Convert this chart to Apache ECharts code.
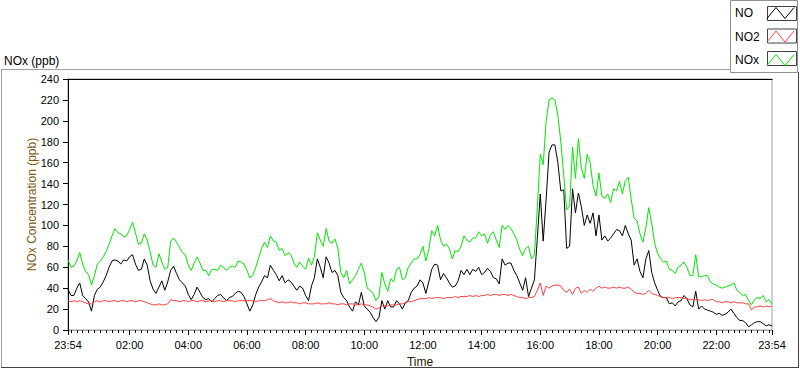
<!DOCTYPE html>
<html>
<head>
<meta charset="utf-8">
<script src="https://cdn.jsdelivr.net/npm/echarts@6/dist/echarts.min.js"></script>
<style>
html,body{margin:0;padding:0;background:#fff;}
#chart{width:800px;height:369px;}
</style>
</head>
<body>
<div id="chart"></div>
<script>
// Time samples every 6 minutes, 23:54 -> 23:54 next day
const categories = [];
for (let i = 0; i <= 240; i++) {
  const m = ((-6 + 6 * i) % 1440 + 1440) % 1440;
  categories.push(String(Math.floor(m / 60)).padStart(2, '0') + ':' + String(m % 60).padStart(2, '0'));
}
const tickLabels = ['23:54','02:00','04:00','06:00','08:00','10:00','12:00','14:00','16:00','18:00','20:00','22:00','23:54'];
const yTicks = [0, 20, 40, 60, 80, 100, 120, 140, 160, 180, 200, 220, 240];

const seriesNames = ['NO', 'NO2', 'NOx'];

const noValues = [39,
33,33,40,45,33,30,27,18,33,39,
41,46,52,60,66,67,66,63,67,66,
70,72,63,57,58,68,62,47,39,35,
41,47,38,46,57,61,54,48,45,42,
34,29,34,41,36,31,29,30,27,30,
33,34,31,28,31,32,35,37,36,32,
25,18,24,34,41,46,52,50,62,57,
53,47,52,45,48,46,42,38,42,40,
33,28,42,50,68,60,50,70,64,55,
57,52,36,31,28,22,18,27,24,36,
23,20,17,12,8,12,28,20,28,22,
22,28,25,20,26,28,36,40,42,48,
45,35,46,58,63,62,48,54,50,45,
41,42,47,57,53,58,53,58,56,60,
53,55,59,56,50,49,44,68,62,64,
64,57,52,45,38,50,32,40,48,88,
130,85,125,170,177,177,160,133,134,78,
80,135,112,131,118,100,110,102,112,90,
110,86,90,85,88,92,96,95,90,100,
92,86,62,68,56,50,68,76,55,45,
38,32,31,31,25,26,23,27,28,33,
30,24,22,37,20,23,20,19,18,17,
15,16,14,15,17,20,16,12,9,9,
7,3,5,7,8,8,6,4,5,4];

const no2Values = [28,
27,28,27,28,27,26,25,25,27,28,
27,28,28,27,28,28,27,28,28,27,
28,28,27,28,28,27,26,25,24,24,
25,24,24,25,29,28,28,27,28,28,
27,28,28,27,28,28,27,28,28,27,
28,28,27,28,28,28,27,28,28,28,
28,28,28,27,28,28,28,29,30,28,
27,26,27,26,26,27,26,26,25,26,
26,25,25,25,26,25,25,25,26,25,
25,24,25,25,24,25,25,24,24,25,
24,24,23,22,20,21,23,23,23,24,
24,24,25,25,26,27,27,28,29,30,
30,30,31,30,31,31,31,30,31,31,
31,32,31,32,32,32,33,32,33,32,
33,33,34,33,34,34,33,34,34,33,
34,33,32,31,31,30,31,31,32,38,
45,33,42,40,42,43,43,42,38,36,
39,34,40,41,35,38,36,39,37,40,
42,40,41,40,40,41,40,41,40,40,
41,39,36,35,35,34,35,38,35,34,
33,32,31,31,31,30,31,31,31,30,
30,29,29,29,29,28,29,28,29,29,
27,27,26,27,27,26,27,26,26,26,
25,25,19,22,22,23,22,23,22,23];

const noxValues = [67,
60,61,66,74,63,56,53,43,52,63,
66,70,75,82,90,97,93,92,89,90,
96,103,93,82,83,92,86,75,62,60,
73,65,58,60,85,88,84,79,74,72,
62,57,64,70,64,57,57,52,58,58,
57,62,60,57,60,61,60,66,65,63,
57,50,52,60,69,78,84,79,90,85,
84,76,78,71,74,72,64,60,65,61,
58,69,62,70,93,86,80,97,85,83,
87,78,55,50,57,44,48,52,58,64,
55,40,38,35,28,32,55,44,37,49,
46,58,60,48,50,60,64,68,68,72,
80,66,77,95,90,100,86,80,82,78,
68,76,75,80,90,86,84,88,88,94,
90,92,83,91,94,86,79,100,96,100,
97,92,86,77,71,78,80,68,72,117,
168,158,200,220,222,220,205,180,148,115,
118,175,145,183,155,145,168,160,138,128,
150,128,126,130,122,135,133,142,130,143,
146,125,107,104,92,84,98,117,102,83,
73,68,65,66,58,57,54,60,62,65,
60,52,52,72,51,51,52,52,46,44,
43,41,40,41,42,43,45,38,36,33,
34,28,24,29,31,30,33,27,29,25];

const colors = ['#000000', '#ff4040', '#00e600'];
const FONT = 'Liberation Sans';
const lastIdx = categories.length - 1;

const isMajor = (i) => i === 0 || i === lastIdx || (tickLabels.indexOf(categories[i]) >= 0 && i !== 1 && categories[i] !== '23:54');
const isMinor = (i) => i === 0 || i === lastIdx || i % 2 === 1;

const chart = echarts.init(document.getElementById('chart'), null, {renderer: 'svg'});

const option = {
  animation: false,
  backgroundColor: '#ffffff',
  title: {
    text: 'NOx (ppb)',
    left: 4, top: 55, padding: 0,
    textStyle: {fontFamily: FONT, fontSize: 12, fontWeight: 'normal', color: '#000'}
  },
  legend: {
    orient: 'vertical',
    left: 735, top: 7,
    padding: 0,
    itemWidth: 27, itemHeight: 11,
    itemGap: 11.5,
    align: 'right',
    icon: 'path://M0,11L9,0L18,11L27,0',
    symbolKeepAspect: false,
    itemStyle: {color: 'transparent', borderWidth: 1},
    formatter: '{a|{name}}',
    textStyle: {fontFamily: FONT, fontSize: 12, color: '#000',
      rich: {a: {fontFamily: FONT, fontSize: 12, color: '#000', width: 27, align: 'left'}}},
    data: seriesNames
  },
  graphic: [
    {type: 'line', shape: {x1: 1, y1: 69.5, x2: 731, y2: 69.5}, style: {stroke: '#a0a0a0', lineWidth: 1}, silent: true},
    {type: 'line', shape: {x1: 1.5, y1: 69, x2: 1.5, y2: 368}, style: {stroke: '#a0a0a0', lineWidth: 1}, silent: true},
    {type: 'line', shape: {x1: 1, y1: 367.5, x2: 799, y2: 367.5}, style: {stroke: '#404040', lineWidth: 1}, silent: true},
    {type: 'line', shape: {x1: 798.5, y1: 72, x2: 798.5, y2: 368}, style: {stroke: '#404040', lineWidth: 1}, silent: true},
    {type: 'rect', shape: {x: 730.5, y: 0.5, width: 67, height: 72}, style: {fill: '#fff', stroke: '#909090', lineWidth: 1}, z: -1, silent: true},
    {type: 'rect', shape: {x: 767.5, y: 6.5, width: 29, height: 14}, style: {fill: 'none', stroke: '#404040', lineWidth: 1}, silent: true},
    {type: 'rect', shape: {x: 767.5, y: 29, width: 29, height: 14}, style: {fill: 'none', stroke: '#404040', lineWidth: 1}, silent: true},
    {type: 'rect', shape: {x: 767.5, y: 51.5, width: 29, height: 14}, style: {fill: 'none', stroke: '#404040', lineWidth: 1}, silent: true}
  ],
  grid: {
    left: 68, top: 79, right: 28, bottom: 39,
    containLabel: false, outerBoundsMode: 'none',
    show: true, borderColor: '#a0a0a0', borderWidth: 1, backgroundColor: '#fff'
  },
  xAxis: [
    {
      type: 'category', data: categories, boundaryGap: false, position: 'bottom',
      name: 'Time', nameLocation: 'middle', nameGap: 26,
      nameTextStyle: {fontFamily: FONT, fontSize: 12, color: '#2a1a00'},
      axisLine: {show: true, lineStyle: {color: '#a0a0a0'}},
      axisTick: {show: true, interval: (i) => isMajor(i), length: 5, lineStyle: {color: '#000'}},
      axisLabel: {show: true, interval: (i) => isMajor(i), margin: 9,
        fontFamily: FONT, fontSize: 11, color: '#000'},
      splitLine: {show: false}
    },
    {
      type: 'category', data: categories, boundaryGap: false, position: 'bottom',
      axisLine: {show: false},
      axisTick: {show: true, interval: (i) => isMinor(i), length: 3, lineStyle: {color: '#000'}},
      axisLabel: {show: false},
      splitLine: {show: false}
    },
    {
      type: 'category', data: categories, boundaryGap: false, position: 'top',
      axisLine: {show: true, lineStyle: {color: '#000'}},
      axisTick: {show: false}, axisLabel: {show: false}, splitLine: {show: false}
    }
  ],
  yAxis: {
    type: 'value', min: yTicks[0], max: yTicks[yTicks.length - 1], interval: 20,
    name: 'NOx Concentration (ppb)', nameLocation: 'middle', nameGap: 30,
    nameMoveOverlap: false,
    nameTextStyle: {fontFamily: FONT, fontSize: 12, color: '#7a5a10'},
    axisLine: {show: true, lineStyle: {color: '#000'}},
    axisTick: {show: true, length: 5, lineStyle: {color: '#000'}},
    axisLabel: {margin: 9, fontFamily: FONT, fontSize: 11, color: '#000'},
    splitLine: {show: false}
  },
  series: [
    {name: 'NO', type: 'line', data: noValues, showSymbol: false, symbol: 'none',
      lineStyle: {color: colors[0], width: 1}, itemStyle: {color: colors[0], borderColor: colors[0]}},
    {name: 'NO2', type: 'line', data: no2Values, showSymbol: false, symbol: 'none',
      lineStyle: {color: colors[1], width: 1}, itemStyle: {color: colors[1], borderColor: colors[1]}},
    {name: 'NOx', type: 'line', data: noxValues, showSymbol: false, symbol: 'none',
      lineStyle: {color: colors[2], width: 1}, itemStyle: {color: colors[2], borderColor: colors[2]}}
  ]
};
chart.setOption(option);
</script>
</body>
</html>
